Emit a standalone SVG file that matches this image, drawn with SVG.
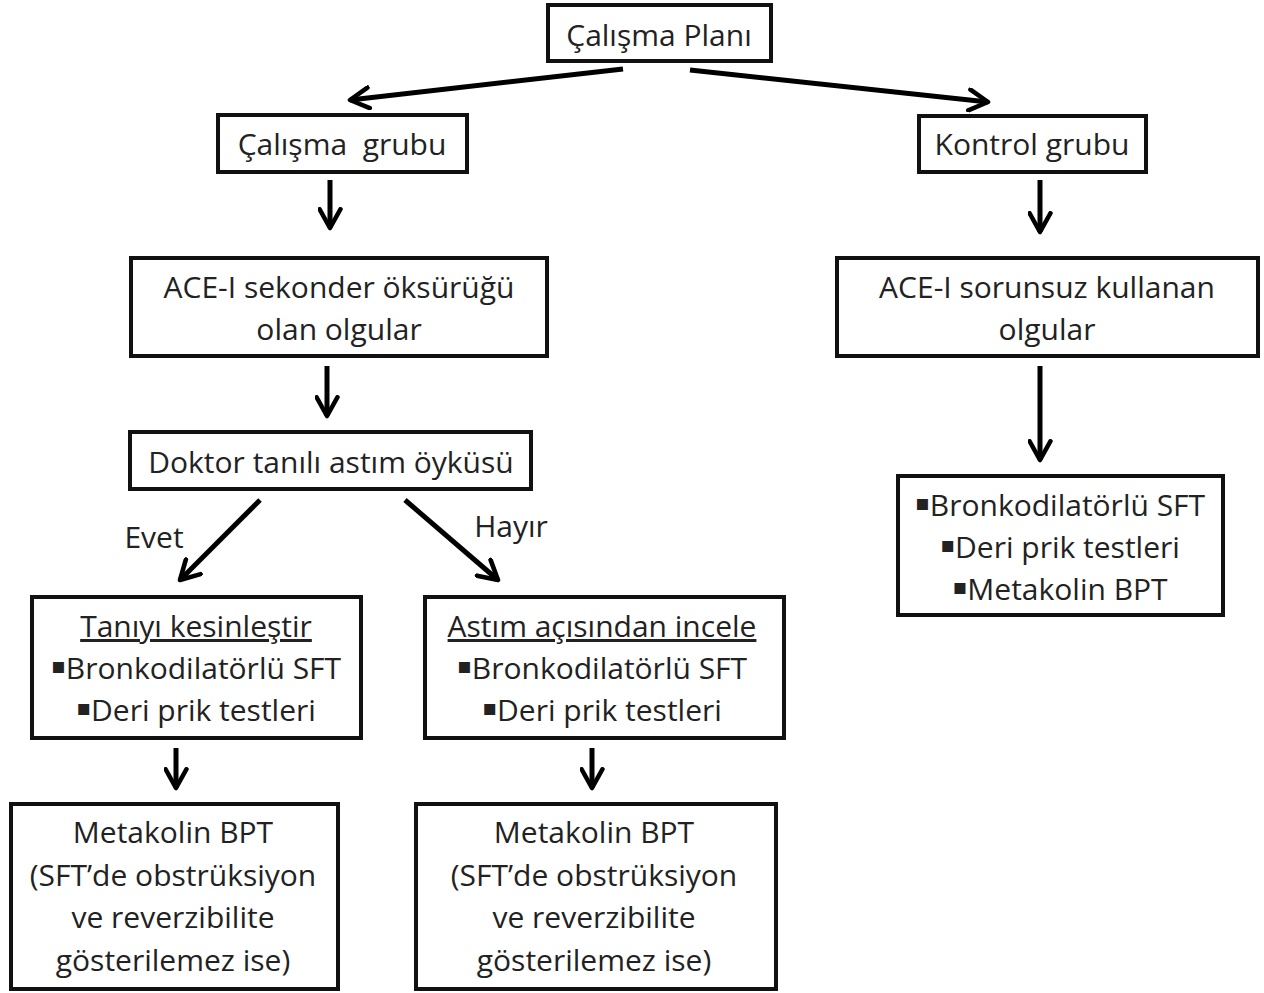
<svg xmlns="http://www.w3.org/2000/svg" width="1264" height="993" viewBox="0 0 1264 993">
<defs>
<marker id="ah" viewBox="0 0 12 12" refX="10" refY="6" markerWidth="5" markerHeight="5" orient="auto" markerUnits="strokeWidth">
<path d="M1,1 L10,6 L1,11" fill="none" stroke="#000" stroke-width="2.2" stroke-linecap="round" stroke-linejoin="round"/>
</marker>
<style>
.box{fill:#fff;stroke:#111;stroke-width:4}
.t{font-family:"Open Sans","Noto Sans","Liberation Sans",sans-serif;font-size:30px;fill:#222;text-anchor:middle}
.b{font-family:"DejaVu Sans",sans-serif;font-size:22px;baseline-shift:6px}
.c{stroke:#000;stroke-width:5;fill:none;marker-end:url(#ah)}
</style>
</defs>
<g id="connectors">
<line class="c" x1="623" y1="69" x2="350" y2="100"/>
<line class="c" x1="690" y1="70" x2="988" y2="102"/>
<line class="c" x1="330" y1="180" x2="330" y2="228"/>
<line class="c" x1="1040" y1="180" x2="1040" y2="232"/>
<line class="c" x1="327" y1="366" x2="327" y2="416"/>
<line class="c" x1="1040" y1="366" x2="1040" y2="460"/>
<line class="c" x1="260" y1="500" x2="180" y2="580"/>
<line class="c" x1="405" y1="500" x2="498" y2="580"/>
<line class="c" x1="176" y1="748" x2="176" y2="788"/>
<line class="c" x1="592" y1="748" x2="592" y2="788"/>
</g>
<g id="n-plan"><rect class="box" x="548" y="5" width="223" height="56"/><text class="t" x="659" y="46">Çalışma Planı</text></g>
<g id="n-calisma"><rect class="box" x="218" y="115" width="249" height="57"/><text class="t" x="342" y="155" xml:space="preserve">Çalışma  grubu</text></g>
<g id="n-kontrol"><rect class="box" x="919" y="116" width="227" height="56"/><text class="t" x="1032" y="155">Kontrol grubu</text></g>
<g id="n-ace1"><rect class="box" x="131" y="258" width="416" height="98"/><text class="t" x="339" y="298">ACE-I sekonder öksürüğü</text><text class="t" x="339" y="340">olan olgular</text></g>
<g id="n-ace2"><rect class="box" x="837" y="258" width="421" height="98"/><text class="t" x="1047" y="298">ACE-I sorunsuz kullanan</text><text class="t" x="1047" y="340">olgular</text></g>
<g id="n-doktor"><rect class="box" x="130" y="432" width="401" height="57"/><text class="t" x="331" y="473">Doktor tanılı astım öyküsü</text></g>
<g id="l-evet"><text class="t" x="154" y="548">Evet</text></g>
<g id="l-hayir"><text class="t" x="511" y="537">Hayır</text></g>
<g id="n-tani"><rect class="box" x="32" y="597" width="329" height="141"/><text class="t" x="196" y="637" text-decoration="underline">Tanıyı kesinleştir</text><text class="t" x="196" y="679"><tspan class="b">▪</tspan>Bronkodilatörlü SFT</text><text class="t" x="196" y="721"><tspan class="b">▪</tspan>Deri prik testleri</text></g>
<g id="n-astim"><rect class="box" x="425" y="597" width="359" height="141"/><text class="t" x="602" y="637" text-decoration="underline">Astım açısından incele</text><text class="t" x="602" y="679"><tspan class="b">▪</tspan>Bronkodilatörlü SFT</text><text class="t" x="602" y="721"><tspan class="b">▪</tspan>Deri prik testleri</text></g>
<g id="n-kontrol-tests"><rect class="box" x="898" y="476" width="325" height="139"/><text class="t" x="1060" y="516"><tspan class="b">▪</tspan>Bronkodilatörlü SFT</text><text class="t" x="1060" y="558"><tspan class="b">▪</tspan>Deri prik testleri</text><text class="t" x="1060" y="600"><tspan class="b">▪</tspan>Metakolin BPT</text></g>
<g id="n-meta1"><rect class="box" x="11" y="804" width="327" height="185"/><text class="t" x="173" y="843">Metakolin BPT</text><text class="t" x="173" y="886">(SFT’de obstrüksiyon</text><text class="t" x="173" y="928">ve reverzibilite</text><text class="t" x="173" y="971">gösterilemez ise)</text></g>
<g id="n-meta2"><rect class="box" x="416" y="804" width="360" height="185"/><text class="t" x="594" y="843">Metakolin BPT</text><text class="t" x="594" y="886">(SFT’de obstrüksiyon</text><text class="t" x="594" y="928">ve reverzibilite</text><text class="t" x="594" y="971">gösterilemez ise)</text></g>
</svg>
